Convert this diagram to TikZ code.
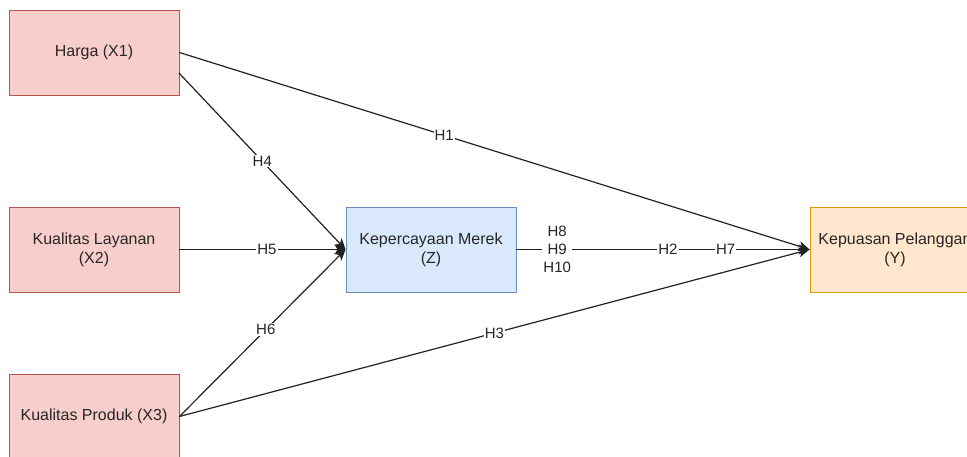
\documentclass[tikz,border=0pt]{standalone}
\usepackage{fontspec}
\setmainfont{Liberation Sans}
\usetikzlibrary{arrows.meta}
\definecolor{redfill}{HTML}{F8CECC}\definecolor{redline}{HTML}{B85450}
\definecolor{bluefill}{HTML}{DAE8FC}\definecolor{blueline}{HTML}{6C8EBF}
\definecolor{orfill}{HTML}{FFE6CC}\definecolor{orline}{HTML}{D79B00}
\definecolor{linecol}{HTML}{222222}
\begin{document}
\begin{tikzpicture}[x=1pt,y=-1pt,
  boxbase/.style={rectangle, minimum width=170pt, minimum height=85pt, align=center, inner sep=0pt, line width=0.9pt, font=\fontsize{16}{19}\selectfont, text=black!85},
  redbox/.style={boxbase, fill=redfill, draw=redline},
  bluebox/.style={boxbase, fill=bluefill, draw=blueline},
  orbox/.style={boxbase, fill=orfill, draw=orline},
  conn/.style={draw=linecol, line width=1.2pt, -{Stealth[length=11pt,width=10pt,inset=3pt]}},
  lbl/.style={fill=white, inner sep=1pt, align=center, text=black!85, font=\fontsize{15}{18}\selectfont}
]
\useasboundingbox (0,0) rectangle (967,457);
\node[redbox] (x1) at (94,52.5) {Harga (X1)};
\node[redbox] (x2) at (94,249.5) {Kualitas Layanan\\(X2)};
\node[redbox] (x3) at (94,416.5) {Kualitas Produk (X3)};
\node[bluebox] (z) at (431,249.5) {Kepercayaan Merek\\(Z)};
\node[orbox] (y) at (895,249.5) {Kepuasan Pelanggan\\(Y)};
\coordinate (x1b) at (179,73);
\draw[conn] (x1.east) -- node[lbl, pos=0.42] {H1} (y.west);
\draw[conn] (x1b) -- node[lbl, pos=0.5] {H4} (z.west);
\draw[conn] (x2.east) -- node[lbl, pos=0.527] {H5} (z.west);
\draw[conn] (x3.east) -- node[lbl, pos=0.52] {H6} (z.west);
\draw[conn] (x3.east) -- node[lbl, pos=0.5] {H3} (y.west);
\draw[conn] (z.east) -- node[lbl, pos=0.139] {H8\\H9\\H10} node[lbl, pos=0.517] {H2} node[lbl, pos=0.714] {H7} (y.west);
\end{tikzpicture}
\end{document}
